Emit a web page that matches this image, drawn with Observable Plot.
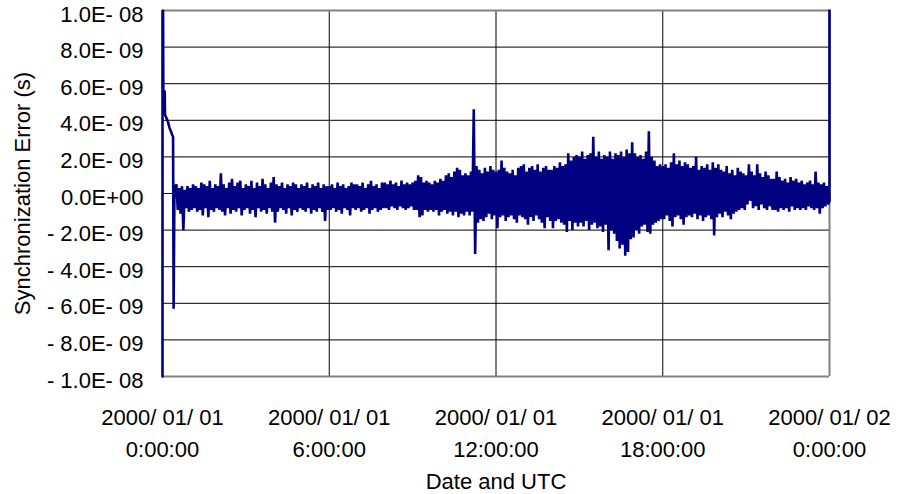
<!DOCTYPE html>
<html>
<head>
<meta charset="utf-8">
<script src="https://cdn.jsdelivr.net/npm/d3@7"></script>
<script src="https://cdn.jsdelivr.net/npm/@observablehq/plot@0.6"></script>
<style>
  html, body { margin: 0; padding: 0; background: #fff; }
</style>
</head>
<body>
<div id="chart"></div>
<script>
// ---- Data (values in ns, i.e. units of 1E-09 s; time in hours from 2000/01/01 0:00:00 UTC)
const xTicks = [0, 6, 12, 18, 24];
const xTickLabels = [
  "2000/ 01/ 01\n0:00:00",
  "2000/ 01/ 01\n6:00:00",
  "2000/ 01/ 01\n12:00:00",
  "2000/ 01/ 01\n18:00:00",
  "2000/ 01/ 02\n0:00:00"
];
const yTicks = [10, 8, 6, 4, 2, 0, -2, -4, -6, -8, -10];
const yTickLabels = [
  "1.0E- 08", "8.0E- 09", "6.0E- 09", "4.0E- 09", "2.0E- 09", "0.0E+00",
  "- 2.0E- 09", "- 4.0E- 09", "- 6.0E- 09", "- 8.0E- 09", "- 1.0E- 08"
];

// initial transient (hours, ns)
const startTimes  = [0, 0, 0.02, 0.03, 0.08, 0.09, 0.15, 0.2, 0.25, 0.3, 0.35, 0.38, 0.40, 0.43];
const startValues = [-10, 10, 10, 5.6, 5.6, 4.3, 4.1, 3.9, 3.6, 3.4, 3.2, 3.1, -6.3, 0.3];

// noise envelope, one bin every 0.1 h starting at 0.5 h: upper and lower excursion (ns)
const binStart = 0.5;
const binStep = 0.1;
const upper = [
  0.5,0.3,0.4,0.2,0.4,
  0.3,0.5,0.4,0.3,0.6,0.5,0.4,0.7,0.3,0.5,
  0.4,1.1,0.5,0.3,0.6,0.8,0.4,0.6,0.7,0.3,
  0.5,0.4,0.7,0.3,0.6,0.4,0.8,0.5,0.3,0.6,
  0.9,0.5,0.4,0.6,0.3,0.5,0.4,0.6,0.5,0.3,
  0.5,0.4,0.6,0.3,0.5,0.4,0.6,0.3,0.5,0.4,
  0.4,0.5,0.3,0.6,0.4,0.5,0.3,0.4,0.6,0.5,
  0.5,0.4,0.6,0.3,0.5,0.7,0.4,0.5,0.3,0.6,
  0.6,0.5,0.7,0.5,0.6,0.4,0.7,0.5,0.6,0.5,
  0.6,0.7,1.0,0.9,0.6,0.7,0.6,0.5,0.7,0.6,
  0.8,0.7,1.0,1.1,0.9,1.2,1.4,1.3,1.0,1.1,
  1.0,1.2,4.6,1.5,1.3,1.1,1.4,1.2,1.5,1.3,
  1.2,1.3,1.8,1.4,1.2,1.1,1.3,1.0,1.4,1.5,
  1.6,1.2,1.4,1.5,1.3,1.6,1.2,1.4,1.5,1.3,
  1.3,1.5,1.4,1.7,1.5,1.6,2.2,1.8,2.0,2.1,
  2.0,2.3,1.9,2.1,2.2,3.1,2.0,2.3,1.9,2.1,
  2.0,2.3,1.9,2.2,2.1,2.3,2.0,2.4,2.2,2.8,
  2.2,2.0,2.1,1.9,2.3,3.4,2.0,1.8,1.5,1.6,
  1.5,1.6,1.4,1.7,2.2,1.6,1.8,1.5,1.7,1.6,
  1.4,1.5,2.0,1.3,1.5,1.4,1.6,1.3,1.7,1.4,
  1.6,1.3,1.2,1.5,1.1,1.3,1.0,1.4,1.2,1.1,
  1.0,1.6,1.2,1.0,1.6,1.1,0.9,1.2,1.0,0.8,
  0.8,1.2,0.9,0.7,0.8,0.6,0.9,0.7,0.8,0.6,
  0.7,0.5,0.6,0.7,0.5,1.2,0.6,0.5,0.6,0.4
];
const lower = [
  -0.9,-1.1,-2.0,-0.8,-1.0,
  -0.9,-0.8,-1.0,-0.9,-1.2,-0.8,-1.3,-0.9,-1.0,-0.8,
  -0.9,-1.0,-1.2,-0.8,-1.1,-0.9,-1.0,-0.8,-1.2,-0.9,
  -0.8,-1.1,-0.9,-1.3,-0.8,-1.0,-0.9,-1.1,-0.8,-1.0,
  -1.6,-1.0,-0.8,-0.9,-1.1,-0.8,-1.2,-0.9,-1.0,-0.8,
  -0.9,-1.0,-0.8,-1.1,-0.9,-1.0,-0.8,-1.0,-1.5,-0.9,
  -0.9,-0.8,-1.0,-0.9,-1.1,-0.8,-0.9,-1.2,-0.8,-0.9,
  -0.8,-1.0,-0.9,-0.8,-1.1,-0.9,-0.8,-1.0,-0.9,-0.8,
  -0.8,-0.9,-0.7,-0.8,-0.9,-0.7,-0.8,-0.9,-0.8,-0.7,
  -0.9,-0.9,-1.3,-1.2,-0.9,-1.0,-0.9,-1.0,-0.9,-1.2,
  -1.0,-0.9,-1.1,-1.0,-1.2,-1.0,-1.3,-1.1,-1.2,-1.0,
  -1.2,-1.0,-3.3,-1.6,-1.4,-1.5,-1.3,-1.1,-1.4,-1.2,
  -1.9,-1.3,-1.2,-1.5,-1.3,-1.2,-1.4,-1.6,-1.2,-1.3,
  -1.4,-1.7,-1.3,-1.5,-1.2,-1.4,-1.6,-1.9,-1.3,-1.5,
  -1.9,-1.5,-1.4,-1.6,-1.7,-2.1,-1.5,-2.0,-1.6,-1.8,
  -1.6,-1.8,-1.5,-2.0,-1.7,-1.6,-1.9,-1.8,-2.1,-1.7,
  -3.1,-2.0,-2.2,-2.6,-3.0,-2.8,-3.4,-3.2,-2.5,-2.4,
  -2.0,-2.2,-1.8,-1.7,-2.1,-2.2,-1.7,-1.6,-1.5,-1.4,
  -1.4,-1.2,-1.5,-1.8,-1.3,-1.2,-1.4,-1.7,-1.3,-1.2,
  -1.3,-1.1,-1.4,-1.2,-1.5,-1.3,-1.2,-1.4,-2.3,-1.3,
  -1.1,-1.3,-1.0,-1.2,-1.4,-1.1,-1.0,-0.9,-0.8,-0.9,
  -0.6,-0.4,-0.8,-0.7,-0.9,-0.6,-0.8,-0.9,-0.7,-0.9,
  -0.9,-1.0,-0.8,-0.9,-0.8,-1.0,-0.7,-0.9,-0.8,-0.9,
  -0.8,-0.9,-0.7,-0.8,-0.9,-0.8,-1.1,-0.8,-0.7,-0.6
];

// end of record
const endTimes  = [24, 24];
const endValues = [-0.4, 10];

// ---- Build the series table
const series = [];
startTimes.forEach((t, i) => series.push({t, v: startValues[i]}));
upper.forEach((u, i) => {
  const t = binStart + i * binStep;
  series.push({t, v: u});
  series.push({t: t + binStep / 2, v: lower[i]});
});
endTimes.forEach((t, i) => series.push({t, v: endValues[i]}));

const font = "'Liberation Sans', Arial, Helvetica, sans-serif";

const chart = Plot.plot({
  width: 901,
  height: 494,
  marginLeft: 162,
  marginRight: 72,
  marginTop: 10,
  marginBottom: 118,
  style: {fontFamily: font, fontSize: "22px", color: "#000", background: "#fff", overflow: "visible"},
  x: {domain: [0, 24], axis: null},
  y: {domain: [-10, 10], axis: null},
  marks: [
    Plot.ruleY(yTicks.slice(1, -1), {stroke: "#000", strokeWidth: 1}),
    Plot.ruleX(xTicks.slice(1, -1), {stroke: "#000", strokeWidth: 1}),
    Plot.ruleY([yTicks[0], yTicks[yTicks.length - 1]], {stroke: "#808080", strokeWidth: 2}),
    Plot.ruleX([xTicks[xTicks.length - 1]], {stroke: "#808080", strokeWidth: 2}),
    Plot.line(series, {x: "t", y: "v", stroke: "#000080", strokeWidth: 2.6, strokeLinejoin: "miter", strokeMiterlimit: 1}),
    Plot.text(yTicks, {
      y: d => d, text: (d, i) => yTickLabels[i],
      frameAnchor: "left", textAnchor: "end", dx: -19, dy: 4, fontSize: 22
    }),
    Plot.text(xTicks, {
      x: d => d, text: (d, i) => xTickLabels[i],
      frameAnchor: "bottom", lineAnchor: "top", dy: 26, lineHeight: 1.45, fontSize: 22
    }),
    Plot.text(["Date and UTC"], {
      frameAnchor: "bottom", lineAnchor: "middle", dy: 105, fontSize: 22
    }),
    Plot.text(["Synchronization Error (s)"], {
      frameAnchor: "left", textAnchor: "middle", lineAnchor: "middle",
      rotate: -90, dx: -140, fontSize: 22, letterSpacing: "0.5px"
    })
  ]
});
document.getElementById("chart").appendChild(chart);
</script>
</body>
</html>
